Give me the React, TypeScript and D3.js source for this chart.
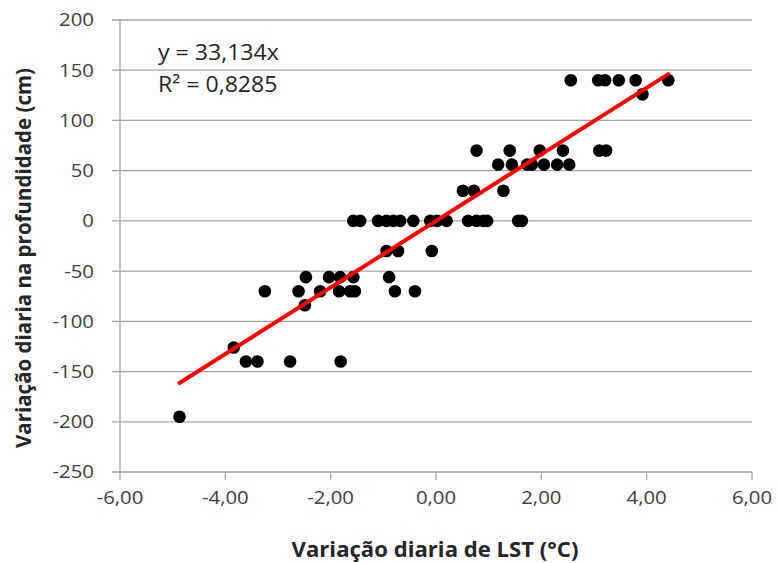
import React from "react";
import * as d3 from "d3";

const lstX: number[] = [
  2.56, 3.08, 3.21, 3.47, 3.79, 4.41,
  3.92,
  0.77, 1.40, 1.97, 2.41, 3.10, 3.23,
  1.18, 1.44, 1.73, 1.82, 2.05, 2.30, 2.53,
  0.51, 0.72, 1.28,
  -1.57, -1.44, -1.10, -0.94, -0.81, -0.68, -0.43, -0.11, 0.02, 0.20, 0.61, 0.77, 0.90, 0.97, 1.56, 1.63,
  -0.94, -0.72, -0.08,
  -2.47, -2.03, -1.82, -1.57, -0.89,
  -3.25, -2.61, -2.20, -1.84, -1.63, -1.54, -0.78, -0.40,
  -2.49,
  -3.84,
  -3.61, -3.39, -2.77, -1.81,
  -4.87,
];
const depthY: number[] = [
  140, 140, 140, 140, 140, 140,
  126,
  70, 70, 70, 70, 70, 70,
  56, 56, 56, 56, 56, 56, 56,
  30, 30, 30,
  0, 0, 0, 0, 0, 0, 0, 0, 0, 0, 0, 0, 0, 0, 0, 0,
  -30, -30, -30,
  -56, -56, -56, -56, -56,
  -70, -70, -70, -70, -70, -70, -70, -70,
  -84,
  -126,
  -140, -140, -140, -140,
  -195,
];
const slope = 33.134;
const xTicks: number[] = [-6, -4, -2, 0, 2, 4, 6];
const yTicks: number[] = [200, 150, 100, 50, 0, -50, -100, -150, -200, -250];
const eqLine1 = "y = 33,134x";
const eqLine2 = "R² = 0,8285";
const xTitle = "Variação diaria de LST (°C)";
const yTitle = "Variação diaria na profundidade (cm)";

export default function App() {
  const W = 778, H = 563;
  const left = 120, right = 752, top = 20, bottom = 472;
  const x = d3.scaleLinear().domain([-6, 6]).range([left, right]);
  const y = d3.scaleLinear().domain([-250, 200]).range([bottom, top]);
  const fmt = (v: number) => v.toFixed(2).replace(".", ",");
  const pts = lstX.map((v, i) => [v, depthY[i]] as [number, number]);
  const xmin = d3.min(lstX)!, xmax = d3.max(lstX)!;
  const line = d3.line<number>().x((d) => x(d)).y((d) => y(slope * d));
  const font = "'Open Sans', sans-serif";
  const grid = "#a6a6a6";
  return (
    <svg width={W} height={H} style={{ position: "absolute", left: 0, top: 0, background: "#fff" }} fontFamily={font}>
      {yTicks.map((t) => (
        <g key={"y" + t}>
          <line x1={left - 8} x2={right} y1={y(t)} y2={y(t)} stroke={grid} strokeWidth={1.3} />
          <text x={94} y={y(t)} dy="0.35em" textAnchor="end" fontSize={18.5} fill="#404040"
            transform={`translate(94,0) scale(1.1,1) translate(-94,0)`}>{t}</text>
        </g>
      ))}
      <line x1={left} x2={left} y1={top} y2={bottom} stroke={grid} strokeWidth={1.3} />
      {xTicks.map((t) => (
        <g key={"x" + t}>
          <line x1={x(t)} x2={x(t)} y1={bottom} y2={bottom + 8} stroke={grid} strokeWidth={1.3} />
          <text x={x(t)} y={504} textAnchor="middle" fontSize={18.5} fill="#404040"
            transform={`translate(${x(t)},0) scale(1.1,1) translate(${-x(t)},0)`}>{fmt(t)}</text>
        </g>
      ))}
      {pts.map(([a, b], i) => (
        <circle key={i} cx={x(a)} cy={y(b)} r={6.3} fill="#000" />
      ))}
      <path d={line([xmin, xmax])!} stroke="#ff0000" strokeWidth={4} strokeLinecap="round" fill="none" />
      <text x={158} y={60} fontSize={21} fill="#262626"
        transform="translate(158,0) scale(1.1,1) translate(-158,0)">{eqLine1}</text>
      <text x={158} y={92} fontSize={21} fill="#262626"
        transform="translate(158,0) scale(1.1,1) translate(-158,0)">{eqLine2}</text>
      <text x={435} y={557} textAnchor="middle" fontSize={20.5} fontWeight="bold" fill="#262626"
        transform="translate(435,0) scale(1.08,1) translate(-435,0)">{xTitle}</text>
      <text transform={`translate(31,${258}) rotate(-90)`} textAnchor="middle"
        fontSize={20.5} fontWeight="bold" fill="#262626">{yTitle}</text>
    </svg>
  );
}
